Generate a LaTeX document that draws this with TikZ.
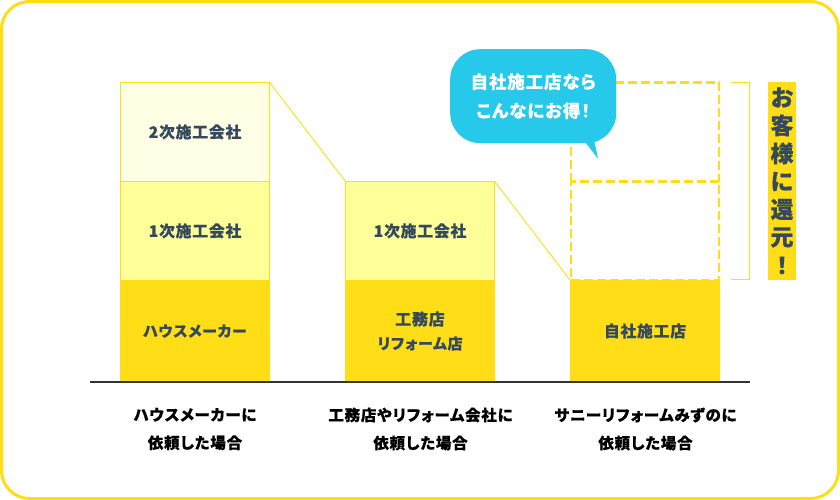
\documentclass[tikz,border=0pt]{standalone}
\usepackage{fontspec}
\newfontfamily\cjk[LetterSpace=5,RawFeature={+palt},BoldFeatures={FakeBold=0.25}]{Noto Sans CJK JP}
\newfontfamily\cjktight[BoldFeatures={FakeBold=0.25}]{Noto Sans CJK JP}
\definecolor{gold}{HTML}{FFDD17}
\definecolor{midy}{HTML}{FFFF99}
\definecolor{paley}{HTML}{FFFFE6}
\definecolor{ink}{HTML}{35495E}
\definecolor{sky}{HTML}{26C9E9}
\definecolor{rule}{HTML}{333333}
\newcommand{\sz}[1]{\fontsize{#1}{24}\selectfont}
\tikzset{
  x=1pt,y=-1pt,
  seg/.style={minimum width=150pt,inner sep=0pt,outer sep=0pt,anchor=north west,text=ink,align=center,font=\cjk\bfseries\fontsize{15.8}{24}\selectfont},
  solidseg/.style={seg,fill=gold},
  midseg/.style={seg,fill=midy,draw=gold,line width=.8pt,minimum width=149.2pt},
  paleseg/.style={seg,fill=paley,draw=gold,line width=.8pt,minimum width=149.2pt},
  ghost/.style={minimum width=148pt,inner sep=0pt,outer sep=0pt,anchor=north west},
  ghostline/.style={draw=gold,line width=2.2pt,dash pattern=on 9pt off 4pt},
  slant/.style={draw=gold,line width=.9pt},
  caption/.style={anchor=center,align=center,text=black,font=\cjk\bfseries\fontsize{15.5}{28}\selectfont},
}
\begin{document}
\begin{tikzpicture}
\useasboundingbox (0,0) rectangle (840,500);
\fill[white] (0,0) rectangle (840,500);
\draw[gold,line width=3pt,rounded corners=28pt] (1.5,1.5) rectangle (838.5,498.5);
% column 1
\node[paleseg,minimum height=99pt] (a3) at (120.4,82.4) {2次施工会社};
\node[midseg,minimum height=99pt] (a2) at (120.4,181.4) {1次施工会社};
\node[solidseg,minimum height=102pt] (a1) at (120,280) {\sz{15}ハウスメーカー};
% column 2
\node[midseg,minimum height=99pt] (b2) at (345.4,181.4) {1次施工会社};
\node[solidseg,minimum height=102pt] (b1) at (345,280) {\sz{16}工務店\\\sz{15}リフォーム店};
% column 3
\node[ghost,minimum height=99pt] (c3) at (571,82.5) {};
\node[ghost,minimum height=98.5pt,ghostline] (c2) at (571,181.5) {};
\draw[ghostline] (c3.south west) -- (c3.north west) -- (c3.north east) -- (c3.south east);
\node[solidseg,minimum height=102pt] (c1) at (570,280) {自社施工店};
% slants
\draw[slant] (a3.north east) -- (b2.north west);
\draw[slant] (b2.north east) -- (c1.north west);
% baseline
\coordinate (bl) at (90,382);
\coordinate (br) at (750,382);
\draw[rule,line width=2pt] (bl) -- (br);
% captions
\node[caption] (t1) at (195,429) {ハウスメーカーに\\依頼した場合};
\node[caption] (t2) at (420.5,429) {工務店やリフォーム会社に\\依頼した場合};
\node[caption] (t3) at (645.5,429) {サニーリフォームみずのに\\依頼した場合};
% bracket
\coordinate (k1) at (731,82.5);
\coordinate (k2) at (749.5,82.5);
\coordinate (k3) at (749.5,279.5);
\coordinate (k4) at (731,279.5);
\draw[gold,line width=1pt] (k1) -- (k2) -- (k3) -- (k4);
% vertical strip
\node[fill=gold,minimum width=28pt,minimum height=198pt,inner sep=0pt,anchor=north west] (strip) at (768,82) {};
\foreach \c [count=\i from 0] in {お,客,様,に,還,元,！}
  \node[inner sep=0pt,text=ink,font=\cjktight\bfseries\fontsize{23}{23}\selectfont] (v\i) at (782,97.5+28*\i) {\c};
% bubble
\fill[sky] (585,142) -- (598,158.5) -- (593,135) -- cycle;
\node[fill=sky,rounded corners=30pt,minimum width=166pt,minimum height=94pt,inner sep=0pt,anchor=north west,text=white,align=center,font=\cjk\bfseries\fontsize{17.5}{29}\selectfont] (bub) at (450,49) {自社施工店なら\\こんなにお得！};
\end{tikzpicture}
\end{document}
